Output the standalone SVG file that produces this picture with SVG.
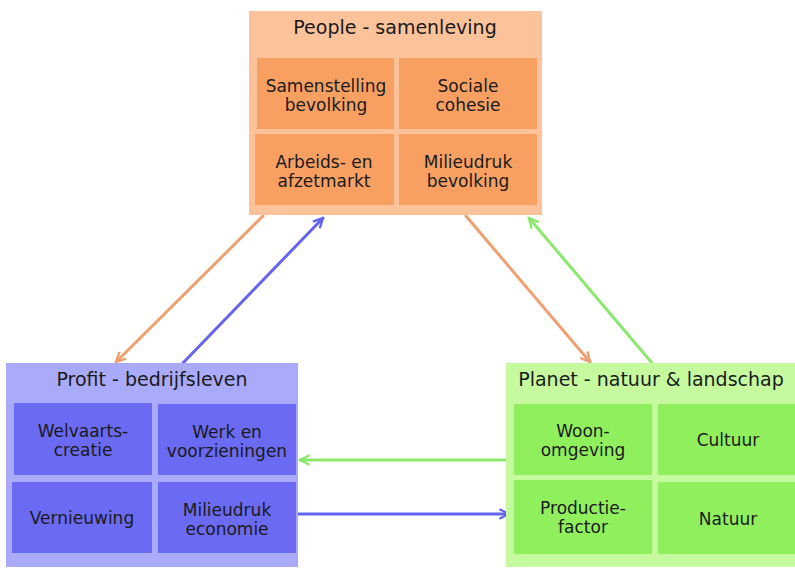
<svg xmlns="http://www.w3.org/2000/svg" width="795" height="575" viewBox="0 0 795 575">
<defs>
<style>
text{font-family:"DejaVu Sans","Verdana",sans-serif;fill:#1a1a1a;text-anchor:middle}
.t{font-size:19px}
.c{font-size:17px}
.c1{fill:#FCC29A}.c2{fill:#F8A062}
.b1{fill:#AAAAFA}.b2{fill:#6A6AF2}
.g1{fill:#C6FA9E}.g2{fill:#90EF5C}
.a{fill:none;stroke-width:3;stroke-linecap:round}
</style>
<marker id="mo" viewBox="0 0 10 10" refX="9" refY="5" markerWidth="4" markerHeight="4" orient="auto" markerUnits="strokeWidth"><path d="M1,1 L9,5 L1,9" fill="none" stroke="#F0A070" stroke-width="2"/></marker>
<marker id="mb" viewBox="0 0 10 10" refX="9" refY="5" markerWidth="4" markerHeight="4" orient="auto" markerUnits="strokeWidth"><path d="M1,1 L9,5 L1,9" fill="none" stroke="#6464F0" stroke-width="2"/></marker>
<marker id="mg" viewBox="0 0 10 10" refX="9" refY="5" markerWidth="4" markerHeight="4" orient="auto" markerUnits="strokeWidth"><path d="M1,1 L9,5 L1,9" fill="none" stroke="#8CE86C" stroke-width="2"/></marker>
</defs>
<g id="connectors">
<line class="a" x1="263" y1="216" x2="116" y2="362" stroke="#F0A070" marker-end="url(#mo)"/>
<line class="a" x1="183" y1="363" x2="323" y2="218" stroke="#6464F0" marker-end="url(#mb)"/>
<line class="a" x1="466" y1="216" x2="590" y2="362" stroke="#F0A070" marker-end="url(#mo)"/>
<line class="a" x1="652" y1="363" x2="529" y2="218" stroke="#8CE86C" marker-end="url(#mg)"/>
<line class="a" x1="506" y1="460" x2="300" y2="460" stroke="#8CE86C" marker-end="url(#mg)"/>
<line class="a" x1="298" y1="514" x2="509" y2="514" stroke="#6464F0" marker-end="url(#mb)"/>
</g>
<g id="people">
<rect class="c1" x="249" y="11" width="293" height="204"/>
<text class="t" x="395" y="34">People - samenleving</text>
<rect class="c2" x="257" y="58" width="137" height="71"/>
<rect class="c2" x="399" y="58" width="138" height="71"/>
<rect class="c2" x="255" y="134" width="139" height="71"/>
<rect class="c2" x="399" y="134" width="138" height="71"/>
<text class="c" x="326" y="92">Samenstelling</text>
<text class="c" x="326" y="111">bevolking</text>
<text class="c" x="468" y="92">Sociale</text>
<text class="c" x="468" y="111">cohesie</text>
<text class="c" x="324" y="168">Arbeids- en</text>
<text class="c" x="324" y="187">afzetmarkt</text>
<text class="c" x="468" y="168">Milieudruk</text>
<text class="c" x="468" y="187">bevolking</text>
</g>
<g id="profit">
<rect class="b1" x="6" y="363" width="292" height="204"/>
<text class="t" x="152" y="386">Profit - bedrijfsleven</text>
<rect class="b2" x="14" y="403" width="138" height="72"/>
<rect class="b2" x="158" y="404" width="138" height="71"/>
<rect class="b2" x="12" y="482" width="140" height="71"/>
<rect class="b2" x="158" y="482" width="138" height="71"/>
<text class="c" x="83" y="437">Welvaarts-</text>
<text class="c" x="83" y="456">creatie</text>
<text class="c" x="227" y="438">Werk en</text>
<text class="c" x="227" y="457">voorzieningen</text>
<text class="c" x="82" y="524">Vernieuwing</text>
<text class="c" x="227" y="516">Milieudruk</text>
<text class="c" x="227" y="535">economie</text>
</g>
<g id="planet">
<rect class="g1" x="506" y="363" width="289" height="204"/>
<text class="t" x="651" y="386">Planet - natuur &amp; landschap</text>
<rect class="g2" x="514" y="404" width="138" height="71"/>
<rect class="g2" x="658" y="404" width="137" height="71"/>
<rect class="g2" x="514" y="480" width="138" height="74"/>
<rect class="g2" x="658" y="482" width="137" height="72"/>
<text class="c" x="583" y="437">Woon-</text>
<text class="c" x="583" y="456">omgeving</text>
<text class="c" x="728" y="446">Cultuur</text>
<text class="c" x="583" y="514">Productie-</text>
<text class="c" x="583" y="533">factor</text>
<text class="c" x="728" y="525">Natuur</text>
</g>
</svg>
